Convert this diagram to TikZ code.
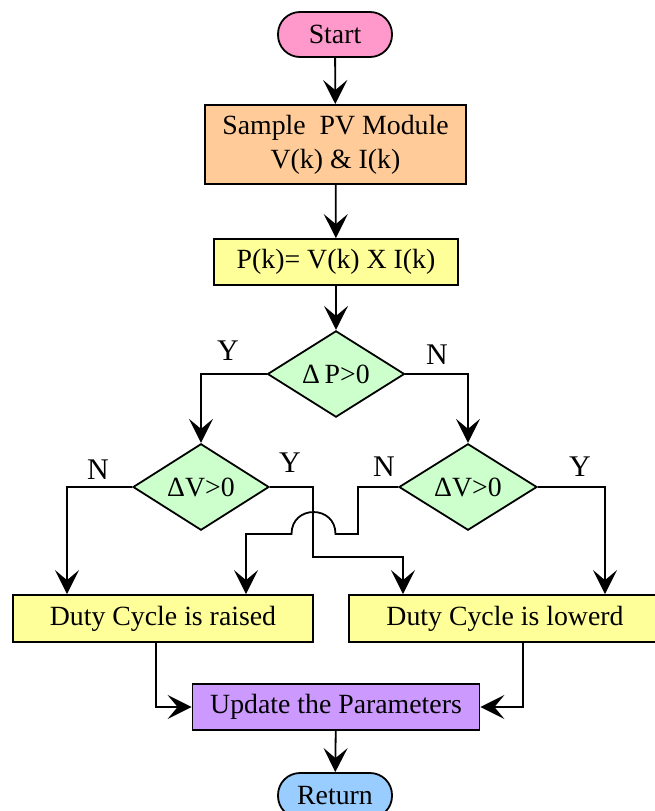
\documentclass[tikz,border=0pt]{standalone}
\usepackage{fontspec}
\setmainfont{Liberation Serif}
\usetikzlibrary{shapes.geometric,arrows.meta}

\definecolor{startpink}{HTML}{FF99CC}
\definecolor{sampleorange}{HTML}{FFCC99}
\definecolor{boxyellow}{HTML}{FFFF99}
\definecolor{decgreen}{HTML}{CCFFCC}
\definecolor{updpurple}{HTML}{CC99FF}
\definecolor{retblue}{HTML}{99CCFF}

\tikzset{
  every node/.style={font=\fontsize{27.8}{34}\selectfont},
  base/.style={draw=black, line width=1.8pt, inner sep=0pt, align=center},
  terminal/.style={base, rounded corners=22pt, minimum width=114pt, minimum height=45pt},
  procbox/.style={base, rectangle},
  decision/.style={base, diamond, fill=decgreen},
  flow/.style={line width=1.8pt, -{Stealth[length=24pt,width=24pt,inset=10pt]}},
  yn/.style={inner sep=0pt, font=\fontsize{30}{34}\selectfont}
}

\begin{document}
\begin{tikzpicture}[x=1pt,y=-1pt]
\useasboundingbox (0,0) rectangle (654,811);

% process and terminal nodes
\node[terminal, fill=startpink] (start) at (335,34.5) {Start};
\node[procbox, fill=sampleorange, minimum width=261pt, minimum height=79pt] (sample) at (335.5,144.5)
  {Sample\ \ PV Module\\V(k) \& I(k)};
\node[procbox, fill=boxyellow, minimum width=244pt, minimum height=46pt] (power) at (336,262)
  {P(k)= V(k) X I(k)};

% decisions
\node[decision, minimum width=137pt, minimum height=83pt] (dp) at (336,374) {Δ\,P>0};
\node[decision, minimum width=136pt, minimum height=84pt] (dvl) at (201,487) {ΔV>0};
\node[decision, minimum width=138pt, minimum height=84pt] (dvr) at (468,487) {ΔV>0};

% duty-cycle actions
\node[procbox, fill=boxyellow, minimum width=300pt, minimum height=47pt] (raised) at (163,618.5)
  {Duty Cycle is raised};
\node[procbox, fill=boxyellow, minimum width=312pt, minimum height=47pt] (lowered) at (505,618.5)
  {Duty Cycle is lowerd};

\node[procbox, fill=updpurple, minimum width=287pt, minimum height=46pt] (update) at (336,707)
  {Update the Parameters};
\node[terminal, fill=retblue] (return) at (335,795.5) {Return};

% branch labels
\node[yn] (ydp) at (228,351) {Y};
\node[yn] (ndp) at (437,355) {N};
\node[yn] (nl) at (98,470) {N};
\node[yn] (yl) at (290,463) {Y};
\node[yn] (nr) at (384,467) {N};
\node[yn] (yr) at (580,467) {Y};

% bend points of the routed connectors
\coordinate (lft) at (67,487);
\coordinate (yla) at (313,487);
\coordinate (ylb) at (313,557);
\coordinate (ylc) at (403,557);
\coordinate (nra) at (358,487);
\coordinate (nrb) at (358,534);
\coordinate (hopr) at (335.5,534);
\coordinate (hopl) at (291.5,534);
\coordinate (nrc) at (246,534);
\coordinate (rgt) at (605,487);
\coordinate (rsa) at (156,707);
\coordinate (lwa) at (523,707);

% main line
\draw[flow] (start) -- (sample);
\draw[flow] (sample) -- (power);
\draw[flow] (power) -- (dp);

% first decision
\draw[flow] (dp.west) -| (dvl.north);
\draw[flow] (dp.east) -| (dvr.north);

% left decision
\draw[flow] (dvl.west) -- (lft) -- (lft |- raised.north);
\draw[flow] (dvl.east) -- (yla) -- (ylb) -- (ylc) -- (ylc |- lowered.north);

% right decision, hopping over the crossing line
\draw[flow] (dvr.west) -- (nra) -- (nrb) -- (hopr)
  .. controls (335.5,504.7) and (291.5,504.7) .. (hopl) -- (nrc) -- (nrc |- raised.north);
\draw[flow] (dvr.east) -- (rgt) -- (rgt |- lowered.north);

% merge into the update step
\draw[flow] (raised.south -| rsa) -- (rsa) -- (update.west);
\draw[flow] (lowered.south -| lwa) -- (lwa) -- (update.east);
\draw[flow] (update) -- (return);
\end{tikzpicture}
\end{document}
